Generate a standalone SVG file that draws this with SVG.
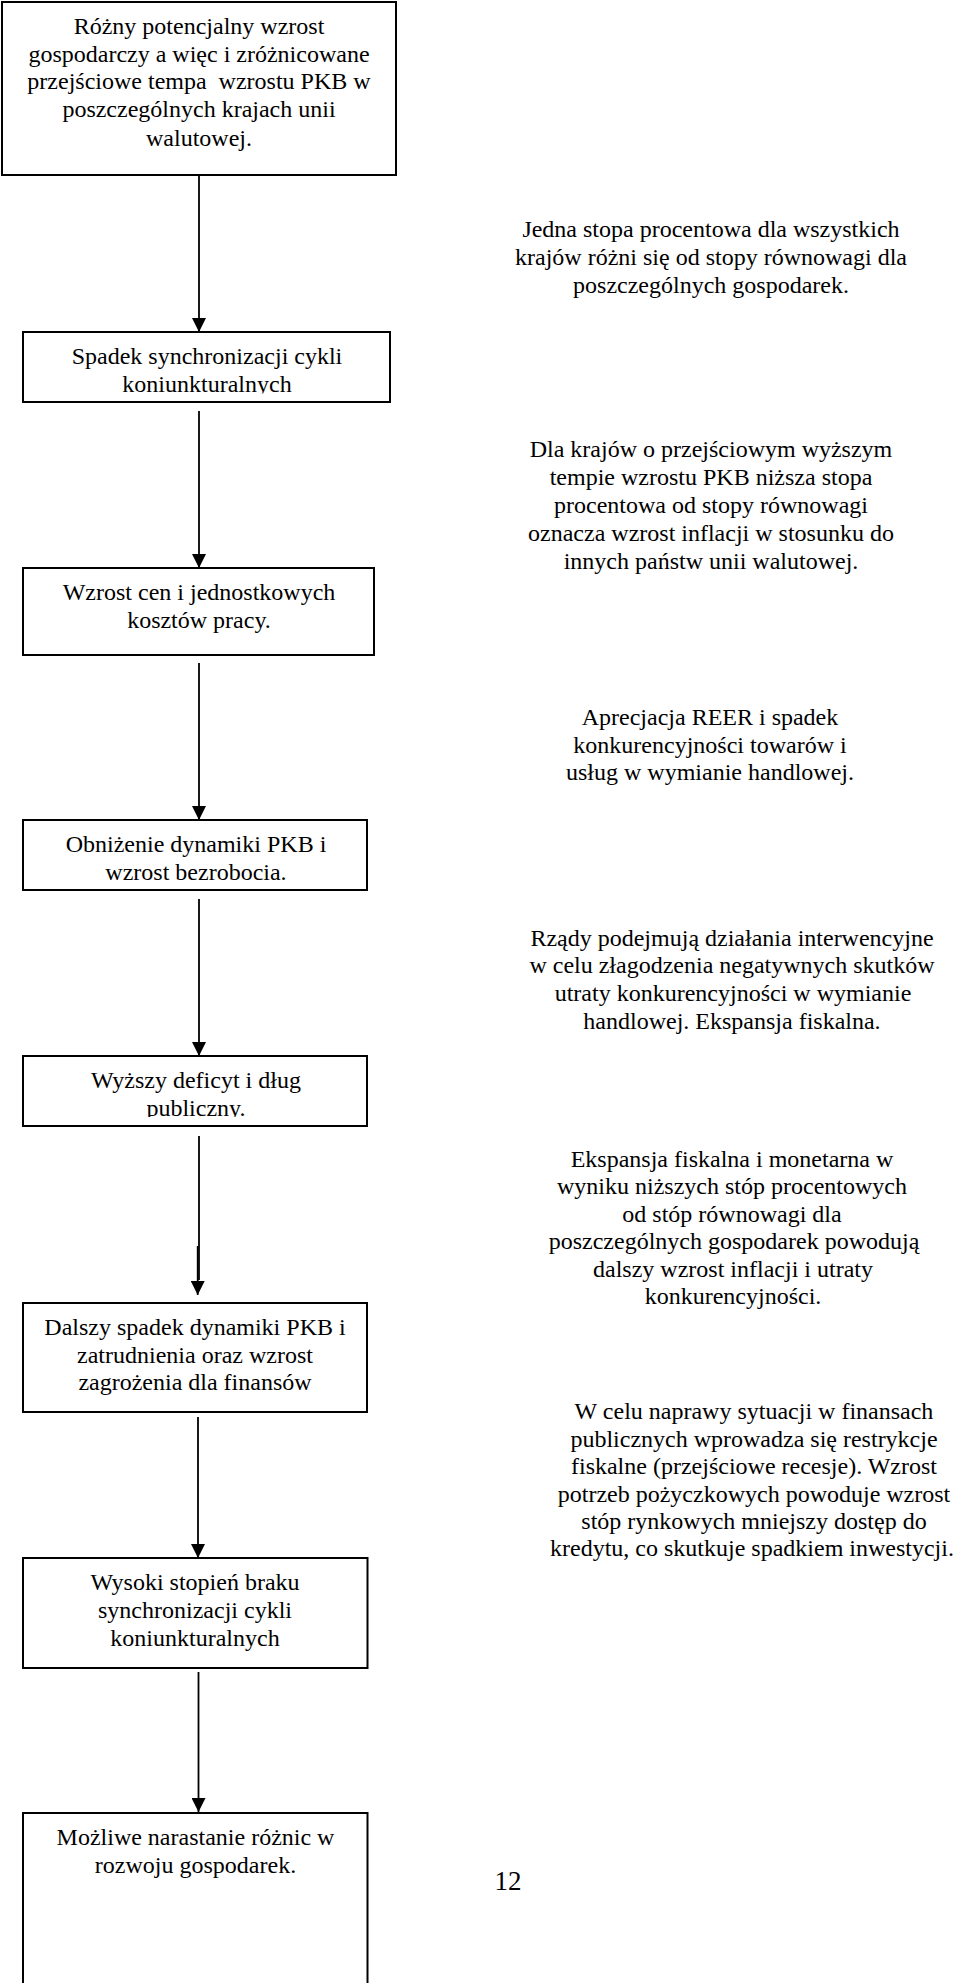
<svg xmlns="http://www.w3.org/2000/svg" width="960" height="1983" viewBox="0 0 960 1983">
<style>
  .box{fill:#fff;stroke:#000;stroke-width:2}
  text{font-family:"Liberation Serif","Times New Roman",serif;font-size:24px;fill:#000;text-anchor:middle}
  .conn{stroke:#000;stroke-width:1.8;fill:none}
</style>
<defs>
  <marker id="ah" markerUnits="userSpaceOnUse" markerWidth="14" markerHeight="14" viewBox="0 0 14 14" refX="14" refY="7" orient="auto">
    <path d="M0,0 L14,7 L0,14 z" fill="#000"/>
  </marker>
  <clipPath id="c2"><rect x="23" y="332" width="367" height="61.5"/></clipPath>
  <clipPath id="c5"><rect x="23" y="1056" width="344" height="61"/></clipPath>
</defs>
<rect width="960" height="1983" fill="#fff"/>

<g id="connectors">
  <line class="conn" x1="199" y1="175" x2="199" y2="332" marker-end="url(#ah)"/>
  <line class="conn" x1="199" y1="411" x2="199" y2="568" marker-end="url(#ah)"/>
  <line class="conn" x1="199" y1="663" x2="199" y2="820" marker-end="url(#ah)"/>
  <line class="conn" x1="199" y1="899" x2="199" y2="1056" marker-end="url(#ah)"/>
  <line class="conn" x1="199" y1="1136" x2="199" y2="1280"/>
  <line class="conn" x1="197.7" y1="1246" x2="197.7" y2="1295" marker-end="url(#ah)"/>
  <line class="conn" x1="198" y1="1417" x2="198" y2="1558" marker-end="url(#ah)"/>
  <line class="conn" x1="198.5" y1="1672" x2="198.5" y2="1812" marker-end="url(#ah)"/>
</g>

<g id="n1">
  <rect class="box" x="2" y="2" width="394" height="173"/>
  <text x="199" y="33.5">Różny potencjalny wzrost</text>
  <text x="199" y="61.5">gospodarczy a więc i zróżnicowane</text>
  <text x="199" y="89" xml:space="preserve">przejściowe tempa  wzrostu PKB w</text>
  <text x="199" y="116.7">poszczególnych krajach unii</text>
  <text x="199" y="145.5">walutowej.</text>
</g>

<g id="n2">
  <rect class="box" x="23" y="332" width="367" height="70"/>
  <text x="207" y="364">Spadek synchronizacji cykli</text>
  <text x="207" y="391.7" clip-path="url(#c2)">koniunkturalnych</text>
</g>

<g id="n3">
  <rect class="box" x="23" y="568" width="351" height="87"/>
  <text x="199" y="600">Wzrost cen i jednostkowych</text>
  <text x="199" y="628">kosztów pracy.</text>
</g>

<g id="n4">
  <rect class="box" x="23" y="820" width="344" height="70"/>
  <text x="196" y="852">Obniżenie dynamiki PKB i</text>
  <text x="196" y="880">wzrost bezrobocia.</text>
</g>

<g id="n5">
  <rect class="box" x="23" y="1056" width="344" height="70"/>
  <text x="196" y="1088.3">Wyższy deficyt i dług</text>
  <text x="196" y="1116" clip-path="url(#c5)">publiczny.</text>
</g>

<g id="n6">
  <rect class="box" x="23" y="1303" width="344" height="109"/>
  <text x="195" y="1335">Dalszy spadek dynamiki PKB i</text>
  <text x="195" y="1363">zatrudnienia oraz wzrost</text>
  <text x="195" y="1390">zagrożenia dla finansów</text>
</g>

<g id="n7">
  <rect class="box" x="23" y="1558" width="344.5" height="110"/>
  <text x="195" y="1590">Wysoki stopień braku</text>
  <text x="195" y="1618">synchronizacji cykli</text>
  <text x="195" y="1645.6">koniunkturalnych</text>
</g>

<g id="n8">
  <rect class="box" x="23" y="1813" width="344.5" height="200"/>
  <text x="195.5" y="1845">Możliwe narastanie różnic w</text>
  <text x="195.5" y="1873">rozwoju gospodarek.</text>
</g>

<g id="r1">
  <text x="711" y="237">Jedna stopa procentowa dla wszystkich</text>
  <text x="711" y="265">krajów różni się od stopy równowagi dla</text>
  <text x="711" y="293">poszczególnych gospodarek.</text>
</g>

<g id="r2">
  <text x="711" y="457">Dla krajów o przejściowym wyższym</text>
  <text x="711" y="485">tempie wzrostu PKB niższa stopa</text>
  <text x="711" y="513">procentowa od stopy równowagi</text>
  <text x="711" y="541">oznacza wzrost inflacji w stosunku do</text>
  <text x="711" y="569">innych państw unii walutowej.</text>
</g>

<g id="r3">
  <text x="710" y="725">Aprecjacja REER i spadek</text>
  <text x="710" y="753">konkurencyjności towarów i</text>
  <text x="710" y="780">usług w wymianie handlowej.</text>
</g>

<g id="r4">
  <text x="732" y="946">Rządy podejmują działania interwencyjne</text>
  <text x="732" y="973">w celu złagodzenia negatywnych skutków</text>
  <text x="733" y="1001">utraty konkurencyjności w wymianie</text>
  <text x="732" y="1029">handlowej. Ekspansja fiskalna.</text>
</g>

<g id="r5">
  <text x="732" y="1167">Ekspansja fiskalna i monetarna w</text>
  <text x="732" y="1194">wyniku niższych stóp procentowych</text>
  <text x="732" y="1222">od stóp równowagi dla</text>
  <text x="734" y="1249">poszczególnych gospodarek powodują</text>
  <text x="733" y="1277">dalszy wzrost inflacji i utraty</text>
  <text x="733" y="1304">konkurencyjności.</text>
</g>

<g id="r6">
  <text x="754" y="1419">W celu naprawy sytuacji w finansach</text>
  <text x="754" y="1447">publicznych wprowadza się restrykcje</text>
  <text x="754" y="1474">fiskalne (przejściowe recesje). Wzrost</text>
  <text x="754" y="1502">potrzeb pożyczkowych powoduje wzrost</text>
  <text x="754" y="1529">stóp rynkowych mniejszy dostęp do</text>
  <text x="752" y="1556">kredytu, co skutkuje spadkiem inwestycji.</text>
</g>

<g id="pagenum">
  <text x="508" y="1890" style="font-size:27px">12</text>
</g>
</svg>
